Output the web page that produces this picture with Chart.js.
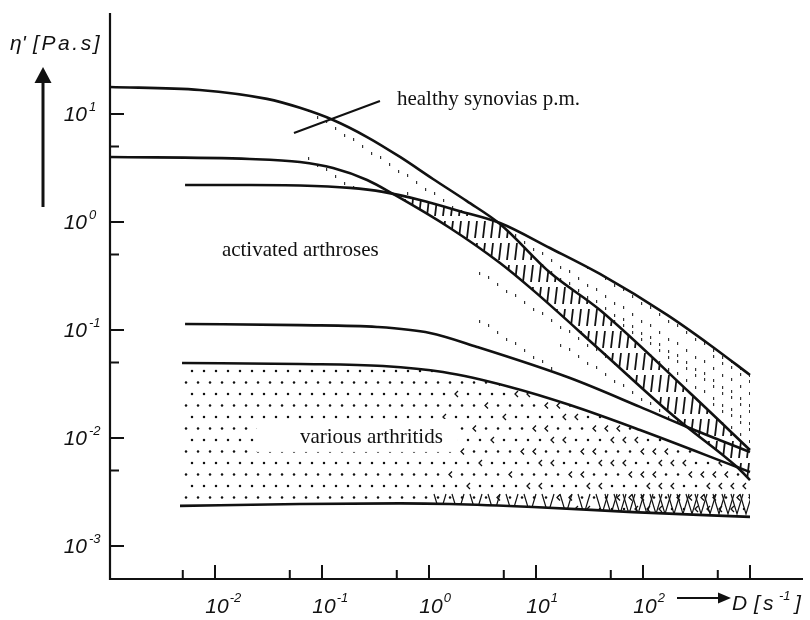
<!DOCTYPE html>
<html lang="en">
<head>
<meta charset="UTF-8" />
<title>Viscosity of synovial fluids</title>
<style>
  body { margin: 0; background: #fff; }
  #wrap { position: relative; width: 810px; height: 620px; }
</style>
</head>
<body>
<div id="wrap"><canvas id="chart"></canvas></div>
<script src="https://cdn.jsdelivr.net/npm/chart.js"></script>
<script>
// shear rate D [1/s] against dynamic viscosity eta' [Pa.s]
const healthyHighD   = [0.001, 0.0072, 0.0306, 0.0622, 0.127, 0.264, 0.536, 1.09, 2.26, 4.61, 13.5, 39.6, 275, 1000];
const healthyHighEta = [17.8, 16.7, 13.8, 11.4, 8.8, 6.12, 4.0, 2.50, 1.56, 0.958, 0.34, 0.153, 0.0261, 0.00774];

const healthyLowD   = [0.001, 0.0212, 0.0622, 0.127, 0.264, 0.461, 1.57, 4.61, 9.37, 39.6, 154, 258, 757, 1000];
const healthyLowEta = [4.0, 3.83, 3.59, 3.16, 2.45, 1.82, 0.880, 0.417, 0.234, 0.0653, 0.0194, 0.01265, 0.00538, 0.00408];

const arthrosisHighD   = [0.00525, 0.0212, 0.0622, 0.183, 0.372, 0.824, 1.95, 4.61, 13.5, 39.6, 168, 423, 1000];
const arthrosisHighEta = [2.20, 2.20, 2.18, 2.07, 1.90, 1.60, 1.26, 0.979, 0.574, 0.330, 0.138, 0.0727, 0.0383];

const arthrosisLowD   = [0.00525, 0.0622, 0.327, 1.02, 2.81, 20.8, 93.8, 258, 1000];
const arthrosisLowEta = [0.1137, 0.111, 0.1066, 0.0938, 0.0697, 0.0359, 0.0194, 0.01265, 0.00741];

const arthritisHighD   = [0.00492, 0.0622, 0.372, 1.35, 5.71, 20.8, 93.8, 757, 1000];
const arthritisHighEta = [0.0495, 0.0484, 0.0464, 0.0408, 0.0297, 0.0202, 0.01186, 0.00538, 0.00484];

const arthritisLowD   = [0.00471, 0.0622, 0.536, 1.57, 9.37, 80.7, 1000];
const arthritisLowEta = [0.00235, 0.00245, 0.00248, 0.00245, 0.00230, 0.00206, 0.00186];

// axis ticks
const xMajorTicks = [0.01, 0.1, 1, 10, 100, 1000];
const xMinorTicks = [0.005, 0.05, 0.5, 5, 50, 500];
const xTickExps   = ['-2', '-1', '0', '1', '2', ''];
const yMajorTicks = [0.001, 0.01, 0.1, 1, 10];
const yMinorTicks = [0.005, 0.05, 0.5, 5];
const yTickExps   = ['-3', '-2', '-1', '0', '1'];

// text inside the plot, placed in data coordinates
const regionLabels = [
  { text: 'healthy synovias p.m.', d: 0.502, eta: 12.1 },
  { text: 'activated arthroses', d: 0.0116, eta: 0.484 },
  { text: 'various arthritids', d: 0.0622, eta: 0.009, clear: true }
];
const leaderLine = [{ d: 0.0547, eta: 6.67 }, { d: 0.348, eta: 13.2 }];

const W = 810, H = 620;
const canvas = document.getElementById('chart');
const ctx0 = canvas.getContext('2d');

// sparse vertical dashes, getting denser to the right
function sparsePattern(startX, endX, maxKeep) {
  const c = document.createElement('canvas');
  c.width = W; c.height = H;
  const g = c.getContext('2d');
  g.fillStyle = '#fff';
  g.fillRect(0, 0, W, H);
  g.fillStyle = '#333';
  for (let i = 0; i * 9 < W; i++) {
    const x = i * 9 + 2;
    const t = Math.min(1, Math.max(0, (x - startX) / (endX - startX)));
    const keep = Math.round(t * maxKeep);
    for (let j = 0; j * 6 < H; j++) {
      if (((i * 5 + j * 3) % 8) < keep) g.fillRect(x, j * 6 + (i % 3), 1.2, 3);
    }
  }
  return ctx0.createPattern(c, 'no-repeat');
}

// dense short strokes of the healthy band
function strokePattern() {
  const c = document.createElement('canvas');
  c.width = 8; c.height = 22;
  const g = c.getContext('2d');
  g.fillStyle = '#fff';
  g.fillRect(0, 0, 8, 22);
  g.strokeStyle = '#111';
  g.lineWidth = 1.8;
  g.beginPath();
  g.moveTo(5, 1);
  g.lineTo(3, 18);
  g.stroke();
  return ctx0.createPattern(c, 'repeat');
}

// dots, with chevrons and crosses toward the lower right
function dotPattern() {
  const c = document.createElement('canvas');
  c.width = W; c.height = H;
  const g = c.getContext('2d');
  g.fillStyle = '#111';
  g.strokeStyle = '#111';
  g.lineWidth = 1.3;
  for (let r = 0; r * 11.5 < H; r++) {
    const y = r * 11.5 + 3;
    const off = (r % 2) * 6;
    let k = 0;
    for (let x = off; x < W; x += 12, k++) {
      const t = (x - 440) / 260;
      if (t > 0 && ((r * 3 + k) % 5) < t * 3) {
        g.beginPath();
        g.moveTo(x + 2, y - 3);
        g.lineTo(x - 1, y);
        g.lineTo(x + 2, y + 3);
        g.stroke();
      } else {
        g.beginPath();
        g.arc(x, y, 1.25, 0, Math.PI * 2);
        g.fill();
      }
    }
  }
  g.lineWidth = 1.2;
  for (let x = 440; x < 760; x += (x < 600 ? 18 : 9)) {
    g.beginPath();
    g.moveTo(x - 6, 494);
    g.lineTo(x, 514);
    g.lineTo(x + 6, 494);
    g.stroke();
  }
  return ctx0.createPattern(c, 'no-repeat');
}

const lightUpper = sparsePattern(250, 760, 5);
const lightLower = sparsePattern(430, 760, 4);
const heavy = strokePattern();
const dots = dotPattern();

function pts(xs, ys) { return xs.map((x, i) => ({ x: x, y: ys[i] })); }

const lineStyle = {
  borderColor: '#111',
  borderWidth: 2.6,
  pointRadius: 0,
  cubicInterpolationMode: 'monotone',
  borderCapStyle: 'butt'
};

const frame = {
  id: 'frame',
  afterDatasetsDraw(chart) {
    const ctx = chart.ctx;
    const xs = chart.scales.x, ys = chart.scales.y;
    const a = chart.chartArea;
    ctx.save();
    ctx.strokeStyle = '#111';
    ctx.fillStyle = '#111';

    // in-plot labels
    ctx.font = '21px "Liberation Serif"';
    ctx.textAlign = 'left';
    ctx.textBaseline = 'alphabetic';
    regionLabels.forEach(l => {
      const px = xs.getPixelForValue(l.d), py = ys.getPixelForValue(l.eta);
      if (l.clear) {
        const w = ctx.measureText(l.text).width;
        ctx.fillStyle = '#fff';
        ctx.fillRect(px - 43, py - 24, w + 58, 33);
        ctx.fillStyle = '#111';
      }
      ctx.fillText(l.text, px, py);
    });
    ctx.lineWidth = 2;
    ctx.beginPath();
    ctx.moveTo(xs.getPixelForValue(leaderLine[0].d), ys.getPixelForValue(leaderLine[0].eta));
    ctx.lineTo(xs.getPixelForValue(leaderLine[1].d), ys.getPixelForValue(leaderLine[1].eta));
    ctx.stroke();

    // axes
    ctx.lineWidth = 2.2;
    ctx.beginPath();
    ctx.moveTo(a.left, a.top);
    ctx.lineTo(a.left, a.bottom);
    ctx.lineTo(a.right + 3, a.bottom);
    ctx.stroke();

    // inward ticks
    ctx.lineWidth = 2;
    ctx.beginPath();
    yMajorTicks.forEach(v => { const y = ys.getPixelForValue(v); ctx.moveTo(a.left, y); ctx.lineTo(a.left + 14, y); });
    yMinorTicks.forEach(v => { const y = ys.getPixelForValue(v); ctx.moveTo(a.left, y); ctx.lineTo(a.left + 9, y); });
    xMajorTicks.forEach(v => { const x = xs.getPixelForValue(v); ctx.moveTo(x, a.bottom); ctx.lineTo(x, a.bottom - 14); });
    xMinorTicks.forEach(v => { const x = xs.getPixelForValue(v); ctx.moveTo(x, a.bottom); ctx.lineTo(x, a.bottom - 9); });
    ctx.stroke();

    const big = 'italic 21px "Liberation Sans"';
    const small = 'italic 13px "Liberation Sans"';

    // y tick labels: "10" with raised exponent
    yMajorTicks.forEach((v, i) => {
      const y = ys.getPixelForValue(v);
      ctx.font = big; ctx.textAlign = 'right';
      ctx.fillText('10', 87, y + 7.5);
      ctx.font = small; ctx.textAlign = 'left';
      ctx.fillText(yTickExps[i], 89, y - 3);
    });

    // x tick labels
    xMajorTicks.forEach((v, i) => {
      if (!xTickExps[i]) return;
      const x = xs.getPixelForValue(v) + 2;
      ctx.font = big; ctx.textAlign = 'center';
      const w = ctx.measureText('10').width;
      ctx.fillText('10', x, 613);
      ctx.font = small; ctx.textAlign = 'left';
      ctx.fillText(xTickExps[i], x + w / 2 + 1, 602);
    });

    // y axis title and arrow
    ctx.font = big; ctx.textAlign = 'left';
    ctx.fillText("\u03b7'", 10, 50);
    let cx = 33;
    for (const ch of '[Pa.s]') { ctx.fillText(ch, cx, 50); cx += ctx.measureText(ch).width + 2.6; }
    ctx.lineWidth = 3;
    ctx.beginPath(); ctx.moveTo(43, 207); ctx.lineTo(43, 80); ctx.stroke();
    ctx.beginPath(); ctx.moveTo(43, 67); ctx.lineTo(34.5, 83); ctx.lineTo(51.5, 83); ctx.closePath(); ctx.fill();

    // x axis title and arrow
    ctx.lineWidth = 2;
    ctx.beginPath(); ctx.moveTo(677, 598); ctx.lineTo(720, 598); ctx.stroke();
    ctx.beginPath(); ctx.moveTo(731, 598); ctx.lineTo(718, 592.5); ctx.lineTo(718, 603.5); ctx.closePath(); ctx.fill();
    ctx.font = big;
    ctx.fillText('D', 732, 610);
    ctx.fillText('[', 754, 610);
    ctx.fillText('s', 763, 610);
    ctx.font = small;
    ctx.fillText('-1', 779, 600);
    ctx.font = big;
    ctx.fillText(']', 795, 610);
    ctx.restore();
  }
};

new Chart(canvas, {
  type: 'line',
  data: {
    datasets: [
      { label: 'activated arthroses, upper', data: pts(arthrosisHighD, arthrosisHighEta), ...lineStyle,
        backgroundColor: lightUpper, fill: { target: 1, above: lightUpper, below: lightUpper } },
      { label: 'healthy synovias, upper', data: pts(healthyHighD, healthyHighEta), ...lineStyle, fill: false },
      { label: 'healthy synovias, lower', data: pts(healthyLowD, healthyLowEta), ...lineStyle,
        backgroundColor: heavy, fill: { target: 0, above: 'rgba(0,0,0,0)', below: heavy } },
      { label: 'activated arthroses, lower', data: pts(arthrosisLowD, arthrosisLowEta), ...lineStyle,
        backgroundColor: lightLower, fill: { target: 2, above: heavy, below: lightLower } },
      { label: 'various arthritids, upper', data: pts(arthritisHighD, arthritisHighEta), ...lineStyle,
        backgroundColor: dots, fill: { target: 5, above: dots, below: dots } },
      { label: 'various arthritids, lower', data: pts(arthritisLowD, arthritisLowEta), ...lineStyle, fill: false }
    ]
  },
  options: {
    responsive: true,
    maintainAspectRatio: false,
    animation: false,
    events: [],
    layout: { padding: { left: 110, right: 10, top: 13, bottom: 41 } },
    scales: {
      x: { type: 'logarithmic', display: false, bounds: 'data', min: 0.001044, max: 2933 },
      y: { type: 'logarithmic', display: false, bounds: 'data', min: 0.0004948, max: 86.1 }
    },
    plugins: {
      filler: { drawTime: 'beforeDatasetsDraw' },
      legend: { display: false },
      tooltip: { enabled: false }
    }
  },
  plugins: [frame]
});
</script>
</body>
</html>
